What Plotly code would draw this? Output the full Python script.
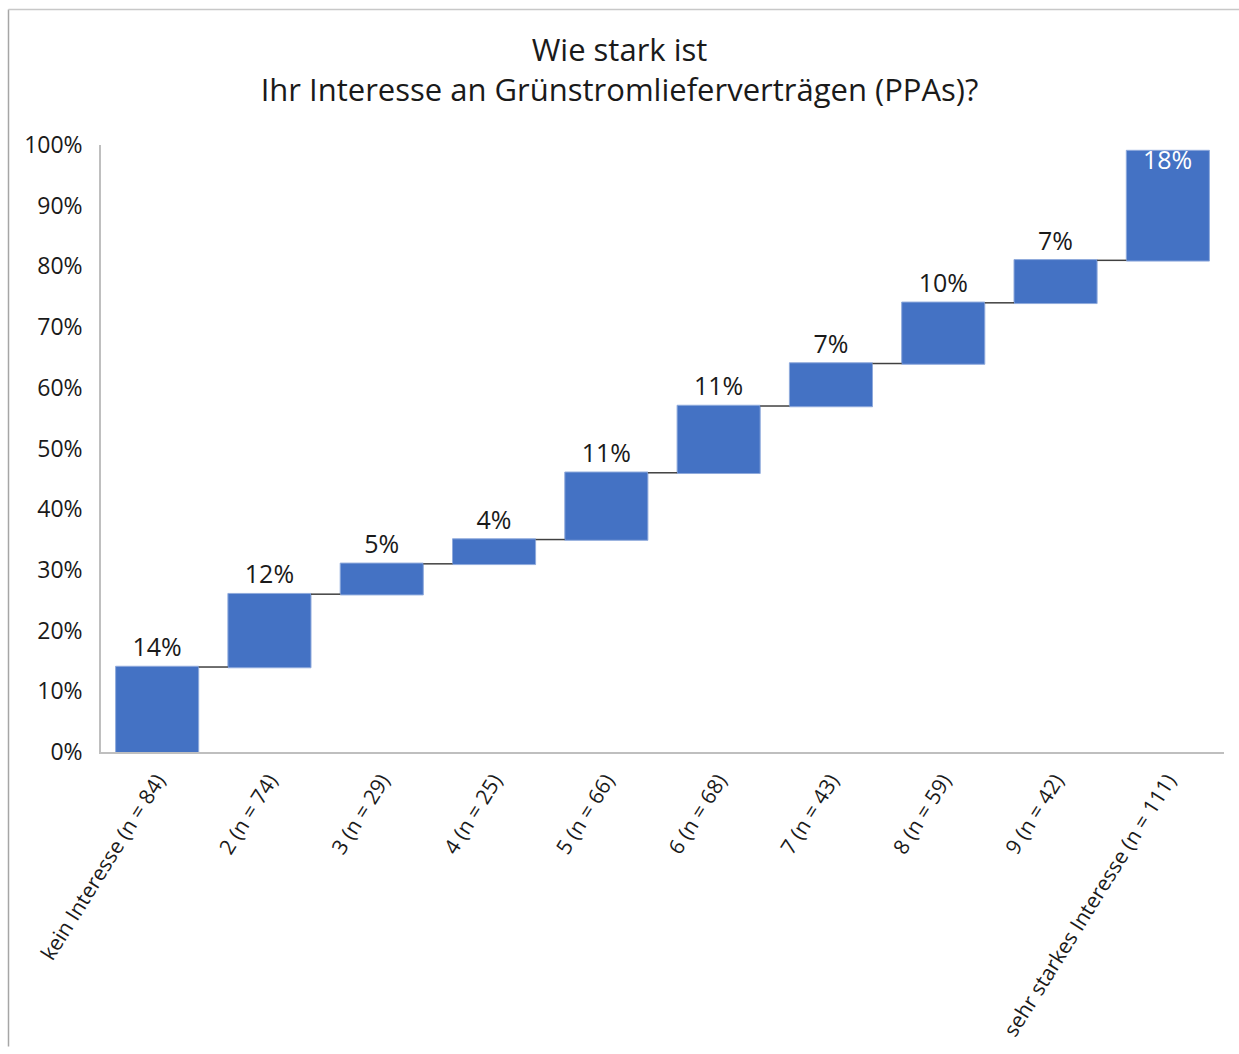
import plotly.graph_objects as go

categories = [
    "kein Interesse (n = 84)", "2 (n = 74)", "3 (n = 29)", "4 (n = 25)",
    "5 (n = 66)", "6 (n = 68)", "7 (n = 43)", "8 (n = 59)", "9 (n = 42)",
    "sehr starkes Interesse (n = 111)",
]
shares = [14, 12, 5, 4, 11, 11, 7, 10, 7, 18]
y_ticks = [0, 10, 20, 30, 40, 50, 60, 70, 80, 90, 100]
y_tick_labels = ["0%", "10%", "20%", "30%", "40%", "50%", "60%", "70%", "80%", "90%", "100%"]

W, H = 1239, 1054
ML, MR, MT, MB = 101, 15, 145, 297
PW, PH = W - ML - MR, H - MT - MB
FRAME = 8.5  # inset of the grey frame (only its left and top edges are in view)

FONT = "Open Sans"
TXT = "#1a1a1a"
labels = [f"{v}%" for v in shares]

fig = go.Figure(go.Waterfall(
    x=categories,
    y=shares,
    measure=["relative"] * len(shares),
    text=labels[:-1] + [""],
    textposition="outside",
    textfont=dict(family=FONT, size=25, color=TXT),
    increasing=dict(marker=dict(color="#4472C4", line=dict(color="#8FAADC", width=1))),
    connector=dict(line=dict(color="#404040", width=1.5), mode="between"),
    cliponaxis=False,
))

# label of the last (top) bar sits inside the bar at its top, in white
fig.add_annotation(
    x=categories[-1], y=sum(shares), xref="x", yref="y",
    text=labels[-1], showarrow=False, yanchor="top", yshift=11,
    font=dict(family=FONT, size=25, color="white"),
)

fx0 = -(ML - FRAME) / PW
fy1 = 1 + (MT - FRAME) / PH
fx1 = 1 + MR / PW
fy0 = -MB / PH

fig.update_layout(
    width=W, height=H,
    margin=dict(l=ML, r=MR, t=MT, b=MB),
    paper_bgcolor="white", plot_bgcolor="white",
    showlegend=False,
    waterfallgap=0.26,
    title=dict(
        text="Wie stark ist<br>Ihr Interesse an Grünstromlieferverträgen (PPAs)?",
        x=0.5, xref="container", xanchor="center",
        y=1 - 61 / H, yref="container", yanchor="middle",
        font=dict(family=FONT, size=31, color=TXT),
    ),
    font=dict(family=FONT, color=TXT),
    shapes=[
        dict(type="line", xref="paper", yref="paper", x0=fx0, x1=fx0, y0=fy0, y1=fy1,
             line=dict(color="#a6a6a6", width=1.5), layer="below"),
        dict(type="line", xref="paper", yref="paper", x0=fx0, x1=fx1, y0=fy1, y1=fy1,
             line=dict(color="#c8c8c8", width=1.5), layer="below"),
    ],
)

fig.update_yaxes(
    range=[0, 100], tickvals=y_ticks, ticktext=y_tick_labels,
    showgrid=False, zeroline=False,
    showline=True, linecolor="#bfbfbf", linewidth=1.5,
    ticks="", ticklabelstandoff=12,
    tickfont=dict(family=FONT, size=23, color=TXT),
)
fig.update_xaxes(
    showgrid=False, showline=True, linecolor="#bfbfbf", linewidth=1.5,
    tickangle=-58, ticks="", ticklabelstandoff=6,
    tickfont=dict(family=FONT, size=21, color=TXT),
)

fig.write_html(
    "out.html",
    config={"displayModeBar": False},
    post_script="document.body.style.margin='0';document.body.style.overflow='hidden';",
)
